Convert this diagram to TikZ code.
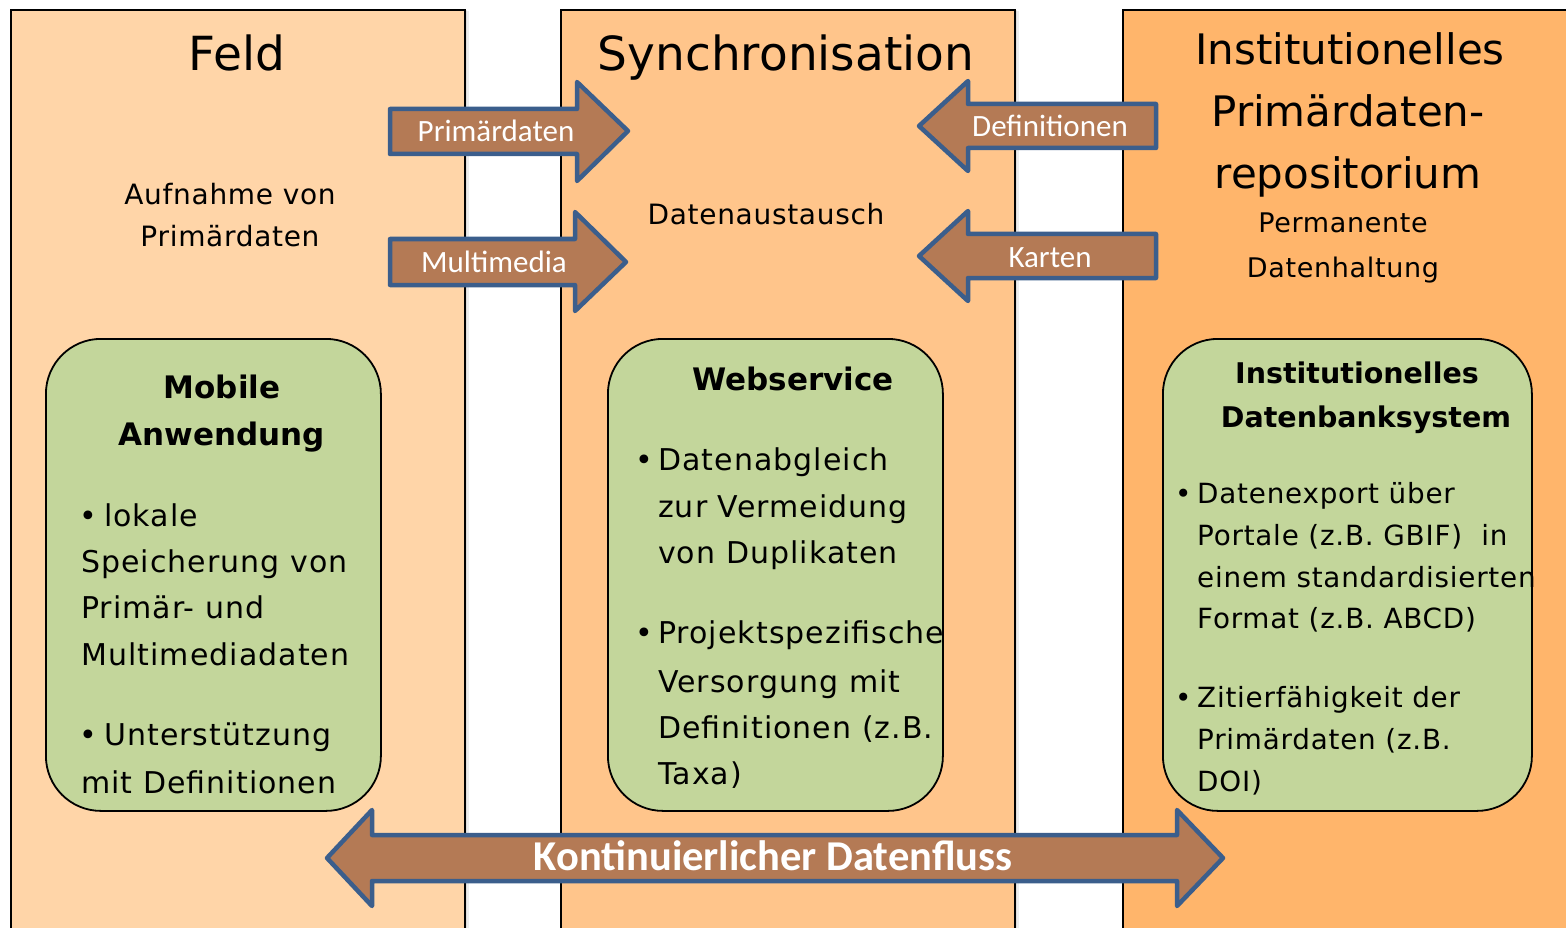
\documentclass[tikz,border=0pt]{standalone}
\usepackage{fontspec}
\setmainfont{DejaVu Sans}
\newfontfamily\calib{Carlito}
\newfontfamily\spaced{DejaVu Sans}[LetterSpace=3.5]
\newfontfamily\spacedmid{DejaVu Sans}[LetterSpace=2.8]
\newfontfamily\spacedsm{DejaVu Sans}[LetterSpace=2.5]
\definecolor{colA}{RGB}{255,213,168}
\definecolor{colB}{RGB}{255,197,139}
\definecolor{colC}{RGB}{255,181,107}
\definecolor{greenbox}{RGB}{195,214,155}
\definecolor{arrfill}{RGB}{180,122,85}
\definecolor{arrline}{RGB}{59,94,140}
\begin{document}
\begin{tikzpicture}[x=1pt,y=-1pt,
  colbox/.style={draw=black, line width=1.8pt, minimum width=454pt, minimum height=960pt, anchor=north west, inner sep=0pt},
  gbox/.style={draw=black, line width=1.8pt, fill=greenbox, rounded corners=55pt, anchor=north west, inner sep=0pt},
  blockarr/.style={fill=arrfill, draw=arrline, line width=4.5pt, line join=round},
  coltitle/.style={anchor=base, inner sep=0pt, font=\fontsize{47}{56}\selectfont},
  reptitle/.style={anchor=base, inner sep=0pt, font=\fontsize{42}{50}\selectfont},
  subtxt/.style={anchor=base, inner sep=0pt, font=\spacedsm\fontsize{28}{34}\selectfont},
  permtxt/.style={anchor=base, inner sep=0pt, font=\spacedsm\fontsize{27}{32}\selectfont},
  arrlabel/.style={anchor=base, inner sep=0pt, text=white, font=\calib\fontsize{31}{37}\selectfont},
  biglabel/.style={anchor=base, inner sep=0pt, text=white, font=\calib\bfseries\fontsize{42.5}{50}\selectfont},
  boxtitle/.style={anchor=base, inner sep=0pt, font=\bfseries\fontsize{31}{37}\selectfont},
  boxtitlesm/.style={anchor=base, inner sep=0pt, font=\bfseries\fontsize{28.5}{34}\selectfont},
  body/.style={anchor=base west, inner sep=0pt, font=\spaced\fontsize{30}{36}\selectfont},
  bodysm/.style={anchor=base west, inner sep=0pt, font=\spacedmid\fontsize{27.8}{34}\selectfont}
]
\useasboundingbox (0,0) rectangle (1566,928);
\fill[white] (0,0) rectangle (1566,928);

% shadows of the columns
\foreach \xa in {10,560,1122}{
  \fill[black,opacity=0.07] (\xa+2,11) rectangle (\xa+459,960);
  \fill[black,opacity=0.07] (\xa+1,10) rectangle (\xa+457,960);
}
% columns
\node (feld) [colbox, fill=colA] at (10,9) {};
\node (sync) [colbox, fill=colB] at (560,9) {};
\node (repo) [colbox, fill=colC] at (1122,9) {};

% column titles
\node (tFeld) [coltitle] at (237,71) {Feld};
\node (tSync) [coltitle] at (786,71) {Synchronisation};
\node (tRepo1) [reptitle] at (1350,65) {Institutionelles};
\node (tRepo2) [reptitle] at (1348,127) {Primärdaten-};
\node (tRepo3) [reptitle] at (1348,189) {repositorium};

\node (aufn1) [subtxt] at (230,205) {Aufnahme von};
\node (aufn2) [subtxt] at (230,247) {Primärdaten};
\node (daus) [subtxt] at (766,225) {Datenaustausch};
\node (perm1) [permtxt] at (1343,233) {Permanente};
\node (perm2) [permtxt] at (1343,277) {Datenhaltung};

% green boxes
\node (mobile) [gbox, minimum width=335pt, minimum height=472pt] at (45,338) {};
\node (websrv) [gbox, minimum width=335pt, minimum height=472pt] at (607,338) {};
\node (dbsys)  [gbox, minimum width=369pt, minimum height=472pt] at (1162,338) {};

% box 1 text
\node (m0a) [boxtitle] at (222,398) {Mobile};
\node (m0b) [boxtitle] at (222,445) {Anwendung};
\node (mb1) [body] at (79,526) {•};
\node (m1) [body] at (104,526) {lokale};
\node (m2) [body] at (81,572) {Speicherung von};
\node (m3) [body] at (81,618) {Primär- und};
\node (m4) [body] at (81,665) {Multimediadaten};
\node (mb2) [body] at (79,745) {•};
\node (m5) [body] at (104,745) {Unterstützung};
\node (m6) [body] at (81,793) {mit Definitionen};

% box 2 text
\node (w0) [boxtitle] at (793,390) {Webservice};
\node (wb1) [body] at (635,470) {•};
\node (w1) [body] at (658,470) {Datenabgleich};
\node (w2) [body] at (658,517) {zur Vermeidung};
\node (w3) [body] at (658,563) {von Duplikaten};
\node (wb2) [body] at (635,643) {•};
\node (w4) [body] at (658,643) {Projektspezifische};
\node (w5) [body] at (658,692) {Versorgung mit};
\node (w6) [body] at (658,738) {Definitionen (z.B.};
\node (w7) [body] at (658,784) {Taxa)};

% box 3 text
\node (d0a) [boxtitlesm] at (1357,383) {Institutionelles};
\node (d0b) [boxtitlesm] at (1366,427) {Datenbanksystem};
\node (db1) [bodysm] at (1175,503) {•};
\node (d1) [bodysm] at (1197,503) {Datenexport über};
\node (d2) [bodysm] at (1197,545) {Portale (z.B. GBIF)~ in};
\node (d3) [bodysm] at (1197,587) {einem standardisierten};
\node (d4) [bodysm] at (1197,628) {Format (z.B. ABCD)};
\node (db2) [bodysm] at (1175,707) {•};
\node (d5) [bodysm] at (1197,707) {Zitierfähigkeit der};
\node (d6) [bodysm] at (1197,749) {Primärdaten (z.B.};
\node (d7) [bodysm] at (1197,791) {DOI)};

% block arrows
\draw[blockarr] (390,109) -- (577,109) -- (577,82) -- (628,131) -- (577,181) -- (577,154) -- (390,154) -- cycle;
\node (aPrim) [arrlabel] at (496,142) {Primärdaten};
\draw[blockarr] (390,239) -- (575,239) -- (575,212) -- (626,262) -- (575,311) -- (575,285) -- (390,285) -- cycle;
\node (aMult) [arrlabel] at (494,272) {Multimedia};
\draw[blockarr] (1156,104) -- (968,104) -- (968,81) -- (919,126) -- (968,171) -- (968,148) -- (1156,148) -- cycle;
\node (aDef) [arrlabel] at (1050,137) {Definitionen};
\draw[blockarr] (1156,234) -- (968,234) -- (968,211) -- (919,256) -- (968,301) -- (968,278) -- (1156,278) -- cycle;
\node (aKart) [arrlabel] at (1050,267) {Karten};
\draw[blockarr] (327,858) -- (372,810) -- (372,835) -- (1177,835) -- (1177,810) -- (1223,858) -- (1177,906) -- (1177,881) -- (372,881) -- (372,906) -- cycle;
\node (aFlow) [biglabel] at (773,870) {Kontinuierlicher Datenfluss};
\end{tikzpicture}
\end{document}
